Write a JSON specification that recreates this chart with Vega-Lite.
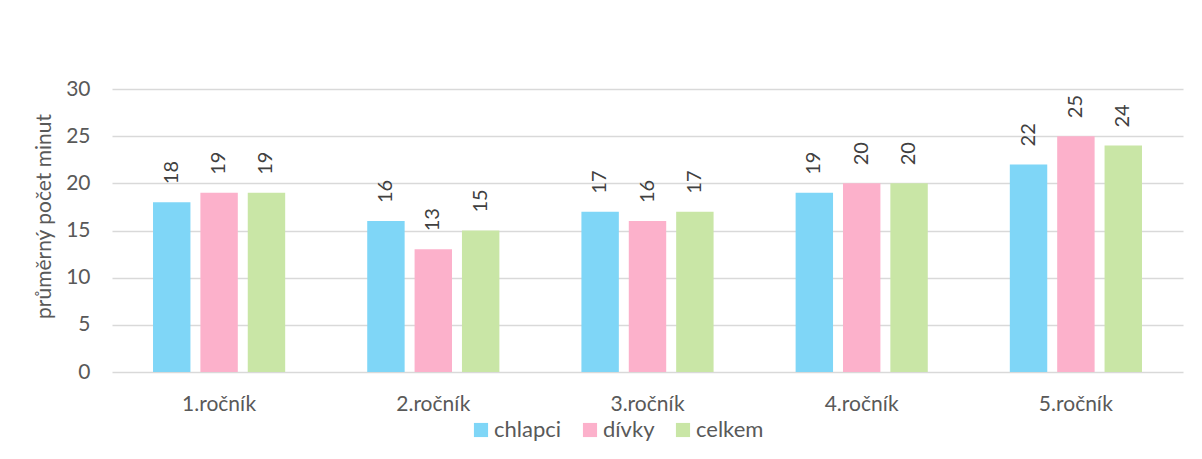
{
  "$schema": "https://vega.github.io/schema/vega-lite/v6.json",
  "width": 1071,
  "height": 283,
  "autosize": {"type": "none"},
  "padding": {"left": 112, "top": 89, "right": 19, "bottom": 87},
  "background": "white",
  "config": {
    "font": "Lato",
    "view": {"stroke": null},
    "axis": {"labelColor": "#595959", "titleColor": "#595959", "labelFont": "Lato", "titleFont": "Lato"},
    "legend": {"labelColor": "#595959", "labelFont": "Lato"}
  },
  "data": {
    "values": [
      {"rocnik": "1.ročník", "skupina": "chlapci", "minuty": 18},
      {"rocnik": "1.ročník", "skupina": "dívky", "minuty": 19},
      {"rocnik": "1.ročník", "skupina": "celkem", "minuty": 19},
      {"rocnik": "2.ročník", "skupina": "chlapci", "minuty": 16},
      {"rocnik": "2.ročník", "skupina": "dívky", "minuty": 13},
      {"rocnik": "2.ročník", "skupina": "celkem", "minuty": 15},
      {"rocnik": "3.ročník", "skupina": "chlapci", "minuty": 17},
      {"rocnik": "3.ročník", "skupina": "dívky", "minuty": 16},
      {"rocnik": "3.ročník", "skupina": "celkem", "minuty": 17},
      {"rocnik": "4.ročník", "skupina": "chlapci", "minuty": 19},
      {"rocnik": "4.ročník", "skupina": "dívky", "minuty": 20},
      {"rocnik": "4.ročník", "skupina": "celkem", "minuty": 20},
      {"rocnik": "5.ročník", "skupina": "chlapci", "minuty": 22},
      {"rocnik": "5.ročník", "skupina": "dívky", "minuty": 25},
      {"rocnik": "5.ročník", "skupina": "celkem", "minuty": 24}
    ]
  },
  "encoding": {
    "x": {
      "field": "rocnik",
      "type": "nominal",
      "sort": null,
      "scale": {"paddingInner": 0.383, "paddingOuter": 0.1915},
      "axis": {
        "title": null,
        "labelAngle": 0,
        "labelFontSize": 21,
        "labelPadding": 21,
        "ticks": false,
        "domain": false
      }
    },
    "xOffset": {
      "field": "skupina",
      "type": "nominal",
      "sort": ["chlapci", "dívky", "celkem"],
      "scale": {"paddingInner": 0.21, "paddingOuter": 0}
    },
    "y": {
      "field": "minuty",
      "type": "quantitative",
      "scale": {"domain": [0, 30], "nice": false},
      "axis": {
        "title": "průměrný počet minut",
        "titleFontSize": 21,
        "titleFontWeight": "normal",
        "titlePadding": 11,
        "titleY": 127,
        "values": [0, 5, 10, 15, 20, 25, 30],
        "labelFontSize": 21,
        "labelPadding": 22,
        "ticks": false,
        "domain": false,
        "gridColor": "#d9d9d9",
        "gridWidth": 1.5
      }
    }
  },
  "layer": [
    {
      "mark": {"type": "bar"},
      "encoding": {
        "color": {
          "field": "skupina",
          "type": "nominal",
          "sort": ["chlapci", "dívky", "celkem"],
          "scale": {
            "domain": ["chlapci", "dívky", "celkem"],
            "range": ["#7fd6f7", "#fcb1cb", "#c9e6a6"]
          },
          "legend": {
            "title": null,
            "orient": "none",
            "legendX": 358,
            "legendY": 330,
            "direction": "horizontal",
            "symbolType": "square",
            "symbolSize": 200,
            "symbolStrokeWidth": 0,
            "labelFontSize": 22,
            "columnPadding": 17,
            "labelOffset": 2
          }
        }
      }
    },
    {
      "mark": {
        "type": "text",
        "angle": 270,
        "align": "left",
        "baseline": "middle",
        "dx": 18,
        "fontSize": 20,
        "color": "#404040"
      },
      "encoding": {
        "text": {"field": "minuty", "type": "quantitative"}
      }
    }
  ]
}
